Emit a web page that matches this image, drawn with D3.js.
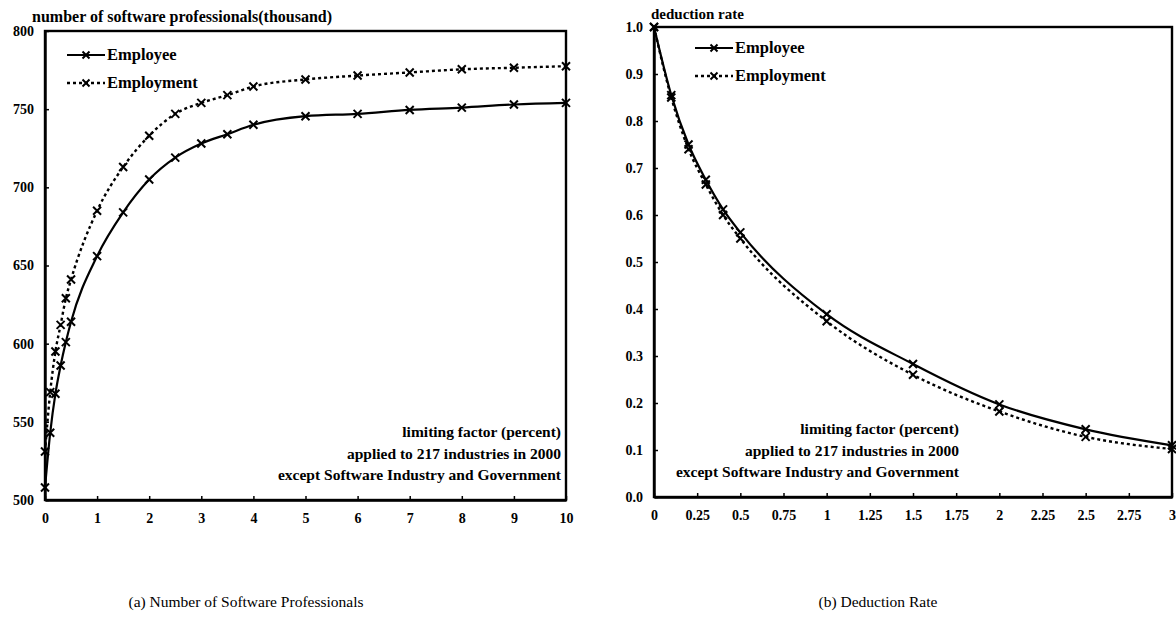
<!DOCTYPE html>
<html>
<head>
<meta charset="utf-8">
<script src="https://cdn.jsdelivr.net/npm/d3@7"></script>
<style>
  html, body { margin: 0; padding: 0; background: #fff; }
  svg { display: block; }
  .lbl { font-family: "Liberation Serif", serif; font-weight: bold; fill: #000; }
  .cap { font-family: "Liberation Serif", serif; fill: #000; }
</style>
</head>
<body>
<svg id="chart" width="1176" height="620"></svg>
<script>
// ---------- Data: (a) Number of Software Professionals ----------
const factorsA = [0, 0.1, 0.2, 0.3, 0.4, 0.5, 1, 1.5, 2, 2.5, 3, 3.5, 4, 5, 6, 7, 8, 9, 10];
const employeeA = [508, 543, 568, 586, 601, 614, 656, 684, 705, 719, 728, 734, 740, 745.5, 747, 749.5, 751, 753, 754];
const employmentA = [531, 569, 595, 612, 629, 641, 685, 713, 733, 747, 754, 759, 764.5, 769, 771.5, 773.5, 775.5, 776.5, 777.5];
const xTicksA = [0, 1, 2, 3, 4, 5, 6, 7, 8, 9, 10];
const yTicksA = [500, 550, 600, 650, 700, 750, 800];

// ---------- Data: (b) Deduction Rate ----------
const factorsB = [0, 0.1, 0.2, 0.3, 0.4, 0.5, 1, 1.5, 2, 2.5, 3];
const employeeB = [1.0, 0.855, 0.75, 0.675, 0.612, 0.563, 0.389, 0.283, 0.197, 0.144, 0.11];
const employmentB = [1.0, 0.85, 0.74, 0.665, 0.6, 0.55, 0.374, 0.26, 0.182, 0.128, 0.102];
const xTicksB = [0, 0.25, 0.5, 0.75, 1, 1.25, 1.5, 1.75, 2, 2.25, 2.5, 2.75, 3];
const yTicksB = [0, 0.1, 0.2, 0.3, 0.4, 0.5, 0.6, 0.7, 0.8, 0.9, 1.0];

const seriesNames = ["Employee", "Employment"];
const noteLines = ["limiting factor (percent)", "applied to 217 industries in 2000", "except Software Industry and Government"];

const svg = d3.select("#chart");

function crossPath(s) {
  return `M${-s},${-s}L${s},${s}M${-s},${s}L${s},${-s}`;
}

function drawPanel(cfg) {
  const g = svg.append("g");
  const x = d3.scaleLinear().domain(cfg.xDomain).range(cfg.xRange);
  const y = d3.scaleLinear().domain(cfg.yDomain).range(cfg.yRange);

  // frame
  g.append("rect")
    .attr("x", cfg.xRange[0]).attr("y", cfg.yRange[1])
    .attr("width", cfg.xRange[1] - cfg.xRange[0])
    .attr("height", cfg.yRange[0] - cfg.yRange[1])
    .attr("fill", "none").attr("stroke", "#000").attr("stroke-width", 2.4);

  // axes (inward ticks)
  const ax = g.append("g").attr("transform", `translate(0,${cfg.yRange[0]})`)
    .call(d3.axisBottom(x).tickValues(cfg.xTicks).tickFormat(cfg.xFmt).tickSizeInner(-4).tickSizeOuter(0).tickPadding(13));
  const ay = g.append("g").attr("transform", `translate(${cfg.xRange[0]},0)`)
    .call(d3.axisLeft(y).tickValues(cfg.yTicks).tickFormat(cfg.yFmt).tickSizeInner(-4).tickSizeOuter(0).tickPadding(11));
  [ax, ay].forEach(a => {
    a.attr("font-family", null).attr("font-size", null);
    a.select(".domain").attr("stroke", "#000").attr("stroke-width", 2.4);
    a.selectAll(".tick line").attr("stroke", "#000").attr("stroke-width", 1.5);
    a.selectAll(".tick text").attr("class", "lbl").style("font-size", "14px");
  });

  // y axis title
  g.append("text").attr("class", "lbl")
    .attr("x", cfg.titleX).attr("y", cfg.titleY)
    .style("font-size", cfg.titleSize)
    .text(cfg.title);

  const line = d3.line().x(d => x(d[0])).y(d => y(d[1])).curve(d3.curveMonotoneX);
  const styles = [
    { dash: null, width: 2.2 },
    { dash: "3,3", width: 2.4 }
  ];
  cfg.series.forEach((vals, i) => {
    const pts = cfg.xs.map((xv, j) => [xv, vals[j]]);
    g.append("path").datum(pts)
      .attr("d", line)
      .attr("fill", "none").attr("stroke", "#000")
      .attr("stroke-width", styles[i].width)
      .attr("stroke-dasharray", styles[i].dash);
    g.append("g").selectAll("path").data(pts).join("path")
      .attr("transform", d => `translate(${x(d[0])},${y(d[1])})`)
      .attr("d", crossPath(4))
      .attr("stroke", "#000").attr("stroke-width", 2).attr("fill", "none");
  });

  // legend
  seriesNames.forEach((name, i) => {
    const ly = cfg.legY + i * cfg.legGap;
    g.append("line")
      .attr("x1", cfg.legX).attr("x2", cfg.legX + 38)
      .attr("y1", ly).attr("y2", ly)
      .attr("stroke", "#000").attr("stroke-width", styles[i].width)
      .attr("stroke-dasharray", styles[i].dash);
    g.append("path")
      .attr("transform", `translate(${cfg.legX + 19},${ly})`)
      .attr("d", crossPath(3.5))
      .attr("stroke", "#000").attr("stroke-width", 2);
    g.append("text").attr("class", "lbl")
      .attr("x", cfg.legX + 40).attr("y", ly + 5)
      .style("font-size", "16.5px")
      .text(name);
  });

  // note
  noteLines.forEach((t, i) => {
    g.append("text").attr("class", "lbl")
      .attr("x", cfg.noteX).attr("y", cfg.noteY + i * 21.5)
      .attr("text-anchor", "end")
      .style("font-size", "15.5px")
      .text(t);
  });

  // caption
  svg.append("text").attr("class", "cap")
    .attr("x", cfg.capX).attr("y", 607)
    .attr("text-anchor", "middle")
    .style("font-size", "15.5px")
    .text(cfg.caption);
}

drawPanel({
  xDomain: [0, 10], yDomain: [500, 800],
  xRange: [45, 566], yRange: [500, 31],
  xTicks: xTicksA, yTicks: yTicksA,
  xFmt: d3.format("d"), yFmt: d3.format("d"),
  xs: factorsA, series: [employeeA, employmentA],
  title: "number of software professionals(thousand)", titleX: 32, titleY: 22, titleSize: "16px",
  legX: 67, legY: 55, legGap: 28,
  noteX: 561, noteY: 437,
  capX: 246, caption: "(a) Number of Software Professionals"
});

drawPanel({
  xDomain: [0, 3], yDomain: [0, 1],
  xRange: [654, 1172], yRange: [497, 27],
  xTicks: xTicksB, yTicks: yTicksB,
  xFmt: d3.format(""), yFmt: d3.format(".1f"),
  xs: factorsB, series: [employeeB, employmentB],
  title: "deduction rate", titleX: 651, titleY: 19, titleSize: "15px",
  legX: 695, legY: 48, legGap: 28,
  noteX: 959, noteY: 434,
  capX: 878, caption: "(b) Deduction Rate"
});
</script>
</body>
</html>
